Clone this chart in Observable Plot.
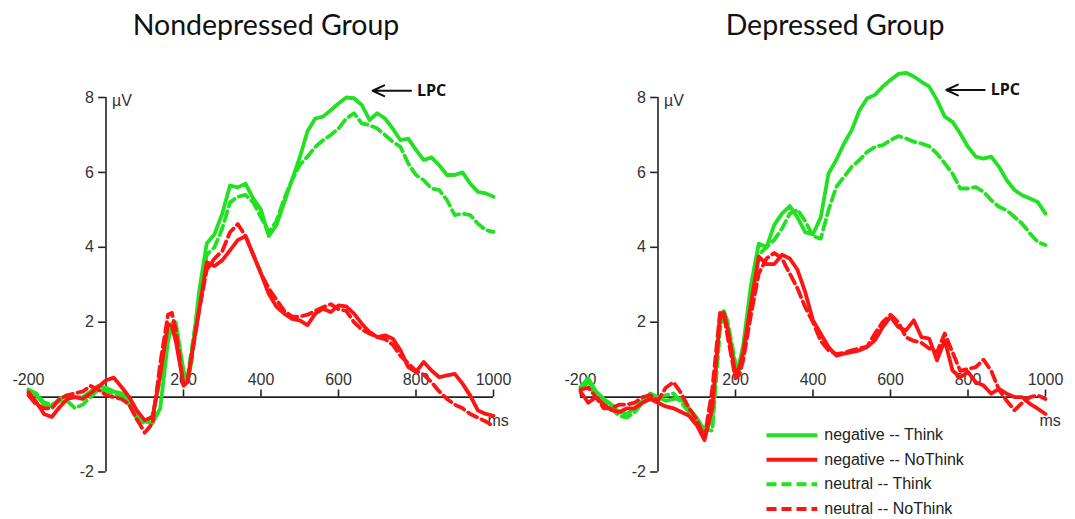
<!DOCTYPE html>
<html><head><meta charset="utf-8">
<script src="https://cdn.jsdelivr.net/npm/d3@7"></script>
<script src="https://cdn.jsdelivr.net/npm/@observablehq/plot@0.6"></script>
<style>body{margin:0;background:#fff} svg{display:block}</style>
</head><body><div id="chart"></div>
<script>
const panels = ["Nondepressed Group", "Depressed Group"];
const seriesNames = ["negative -- Think", "negative -- NoThink", "neutral -- Think", "neutral -- NoThink"];
const xTickLabels = [-200, 200, 400, 600, 800, 1000];
const yTickLabels = [-2, 2, 4, 6, 8];

const times = [-200,-180,-160,-140,-120,-100,-80,-60,-40,-20,0,20,40,60,80,100,120,140,160,170,180,200,210,220,
  240,260,280,300,320,340,360,380,400,420,440,460,480,500,520,540,560,580,600,620,640,660,680,700,720,740,760,780,800,
  820,840,860,880,900,920,940,960,980,1000];

// Nondepressed group
const ndNegThink = [0.2,0.05,-0.2,-0.25,-0.05,0.05,0,0,0.15,0.3,0.25,0.15,0.1,-0.1,-0.5,-0.65,-0.7,-0.3,1.5,1.9,2.0,0.7,0.4,0.9,
  2.8,4.1,4.35,4.9,5.65,5.6,5.7,5.3,5.0,4.3,4.6,5.2,5.8,6.4,7.1,7.44,7.49,7.66,7.84,8.0,7.98,7.8,7.4,7.58,7.44,7.17,6.86,6.9,6.6,
  6.33,6.4,6.19,5.93,5.93,6.0,5.7,5.48,5.44,5.35];
const ndNegNoThink = [0.13,-0.13,-0.45,-0.53,-0.27,-0.05,0,-0.05,0.1,0.27,0.45,0.52,0.27,0,-0.36,-0.62,-0.53,0.6,1.95,1.9,1.5,0.35,0.4,1.07,
  2.3,3.6,3.5,3.65,3.92,4.19,4.3,3.8,3.3,2.76,2.41,2.23,2.09,2.05,1.92,2.23,2.36,2.27,2.45,2.42,2.23,1.96,1.74,1.6,1.65,1.56,1.25,0.8,0.67,
  0.94,0.71,0.53,0.58,0.62,0.36,0.04,-0.36,-0.45,-0.5];
const ndNeuThink = [0.2,0.1,-0.15,-0.2,-0.1,-0.1,-0.3,-0.2,0,0.2,0.15,0.1,0,-0.2,-0.6,-0.7,-0.5,0.5,1.9,2.0,1.8,0.5,0.5,1.2,
  2.6,3.8,4.0,4.5,5.2,5.35,5.4,5.2,4.8,4.4,4.7,5.3,5.79,6.2,6.42,6.68,6.86,7.0,7.17,7.44,7.58,7.31,7.26,7.17,7.0,6.82,6.68,6.24,5.93,
  5.79,5.57,5.53,5.26,4.86,4.9,4.86,4.63,4.46,4.41];
const ndNeuNoThink = [0.05,-0.2,-0.3,-0.3,-0.05,0.05,0.1,0.15,0.3,0.2,0.05,0,-0.05,-0.2,-0.6,-0.95,-0.7,0.9,2.2,2.25,1.8,0.3,0.4,1.0,
  2.3,3.4,3.7,3.9,4.4,4.62,4.3,3.8,3.3,2.9,2.6,2.3,2.15,2.15,2.2,2.3,2.4,2.48,2.35,2.3,2.0,1.8,1.7,1.6,1.55,1.4,1.1,0.9,0.7,
  0.6,0.4,0.15,-0.05,-0.2,-0.3,-0.45,-0.55,-0.65,-0.78];

// Depressed group
const dNegThink = [0.27,0.5,0.15,-0.05,-0.2,-0.4,-0.45,-0.3,-0.1,0.1,0,-0.1,-0.05,-0.05,-0.3,-0.55,-0.9,-0.6,2.2,2.3,1.9,0.8,0.9,1.4,
  3.0,4.1,4.0,4.6,4.9,5.1,4.8,4.4,4.35,4.8,5.97,6.33,6.77,7.13,7.66,7.98,8.07,8.29,8.47,8.63,8.66,8.56,8.42,8.29,7.93,7.49,7.35,7.04,6.68,
  6.42,6.37,6.42,6.15,5.79,5.53,5.39,5.3,5.21,4.9];
const dNegNoThink = [0.15,-0.15,0,-0.2,-0.35,-0.4,-0.3,-0.3,-0.15,-0.05,-0.15,-0.25,-0.3,-0.4,-0.5,-0.75,-1.15,-0.3,2.1,2.25,1.8,0.6,0.8,1.2,
  2.5,3.75,3.55,3.55,3.8,3.7,3.4,2.8,2.05,1.69,1.34,1.11,1.16,1.2,1.25,1.34,1.52,1.87,2.14,1.87,1.78,2.05,1.6,1.56,0.98,1.52,0.71,0.53,0.67,
  0.4,0.31,0.09,0.22,0.09,0,0,-0.18,-0.31,-0.45];
const dNeuThink = [0.2,0.4,0,-0.15,-0.3,-0.5,-0.55,-0.4,-0.15,0,0,0.05,0.1,-0.15,-0.4,-0.6,-0.85,-0.9,1.8,2.3,2.0,0.9,0.7,1.3,
  2.8,3.8,4.0,4.2,4.5,4.9,5.0,4.7,4.3,4.23,4.99,5.61,5.88,6.15,6.33,6.55,6.68,6.73,6.86,6.97,6.91,6.82,6.77,6.7,6.5,6.24,5.97,5.57,5.57,
  5.61,5.48,5.26,5.08,4.99,4.81,4.63,4.37,4.14,4.06];
const dNeuNoThink = [0.2,0.25,0,-0.3,-0.3,-0.2,-0.2,-0.15,0,0.05,-0.1,0.25,0.4,0.1,-0.3,-0.6,-1.1,0.2,2.25,2.2,1.6,0.5,0.6,1.0,
  2.2,3.3,3.7,3.85,3.7,3.3,2.9,2.4,2.0,1.5,1.25,1.15,1.18,1.25,1.3,1.35,1.7,2.0,2.2,2.0,1.6,1.5,1.45,1.3,1.2,1.7,1.2,0.7,0.75,
  0.8,1.0,0.7,0.2,-0.1,-0.35,-0.15,0,0.05,-0.05];

const values = {
  "Nondepressed Group": {"negative -- Think": ndNegThink, "negative -- NoThink": ndNegNoThink, "neutral -- Think": ndNeuThink, "neutral -- NoThink": ndNeuNoThink},
  "Depressed Group": {"negative -- Think": dNegThink, "negative -- NoThink": dNegNoThink, "neutral -- Think": dNeuThink, "neutral -- NoThink": dNeuNoThink}
};

const GREEN = "#22e022", RED = "#ff1414", AXIS = "#222";
const colorOf = s => s.endsWith("NoThink") ? RED : GREEN;
const dashOf = s => s.startsWith("neutral") ? "10,5" : null;

const rows = [];
for (const p of panels) for (const s of seriesNames) times.forEach((t, i) => rows.push({panel: p, series: s, t, v: values[p][s][i]}));

const drawOrder = ["neutral -- Think", "negative -- Think", "neutral -- NoThink", "negative -- NoThink"];
const lineMarks = drawOrder.map(s => Plot.line(rows.filter(d => d.series === s), {
  fx: "panel", x: "t", y: "v", stroke: colorOf(s), strokeWidth: 3.8, strokeDasharray: dashOf(s), strokeLinejoin: "round"
}));

// annotations (positions in ms / µV)
const lpc = [
  {panel: "Nondepressed Group", tail: 787, head: 688, v: 8.18},
  {panel: "Depressed Group", tail: 843, head: 744, v: 8.2}
];
const legendRows = seriesNames.map((s, i) => ({panel: "Depressed Group", s, v: -1.02 - i * 0.655}));

const chart = Plot.plot({
  width: 1075, height: 519,
  marginLeft: 27, marginRight: 29, marginTop: 97, marginBottom: 47.5,
  fx: {domain: panels, paddingInner: 0.157, paddingOuter: 0, axis: null, label: null},
  x: {domain: [-200, 1000], axis: null},
  y: {domain: [-2, 8], axis: null},
  style: {fontFamily: "'Liberation Sans', Arial, sans-serif", fontSize: "16px", color: "#333", background: "#fff"},
  marks: [
    Plot.text([panels[0]], {fx: d => d, frameAnchor: "top", dy: -72, dx: 5, lineAnchor: "middle", text: d => d, fontSize: 28.5, fontFamily: "Lato", fill: "#111"}),
    Plot.text([panels[1]], {fx: d => d, frameAnchor: "top", dy: -72, dx: 22, lineAnchor: "middle", text: d => d, fontSize: 28.5, fontFamily: "Lato", fill: "#111"}),
    // axes
    Plot.text(xTickLabels, {x: d => d, y: 0, dy: -17, text: d => String(d), fill: "#333"}),
    Plot.text(yTickLabels, {x: 0, y: d => d, dx: -12, textAnchor: "end", text: d => String(d), fill: "#333"}),
    Plot.ruleY([0], {x1: -200, x2: 1000, stroke: AXIS, strokeWidth: 1.6}),
    Plot.ruleX([0], {y1: -2, y2: 8, stroke: AXIS, strokeWidth: 1.6}),
    Plot.ruleY(yTickLabels, {y: d => d, x1: -19, x2: 0, stroke: AXIS, strokeWidth: 1.6}),
    Plot.ruleX(xTickLabels, {x: d => d, y1: 0, y2: 0.19, stroke: AXIS, strokeWidth: 1.6}),
    Plot.text(["µV"], {x: 0, y: 8, dx: 6, dy: 3, textAnchor: "start", text: d => d, fill: "#333"}),
    Plot.text(["ms"], {x: 1000, y: 0, dx: -6, dy: 24, textAnchor: "start", text: d => d, fill: "#333"}),
    // LPC annotation
    Plot.arrow(lpc, {fx: "panel", x1: "tail", x2: "head", y1: "v", y2: "v", stroke: "#111", strokeWidth: 2, headLength: 10, headAngle: 50}),
    Plot.text(lpc, {fx: "panel", x: "tail", y: "v", dx: 6, textAnchor: "start", text: () => "LPC", fontWeight: "bold", fontFamily: "'Open Sans'", fontSize: 16, fill: "#111"}),
    // curves
    ...lineMarks,
    // legend
    Plot.link(legendRows, {fx: "panel", x1: 280, x2: 411, y1: "v", y2: "v", stroke: d => colorOf(d.s), strokeWidth: 4,
      filter: d => !dashOf(d.s)}),
    Plot.link(legendRows, {fx: "panel", x1: 280, x2: 411, y1: "v", y2: "v", stroke: d => colorOf(d.s), strokeWidth: 4, strokeDasharray: "10,5",
      filter: d => !!dashOf(d.s)}),
    Plot.text(legendRows, {fx: "panel", x: 429, y: "v", textAnchor: "start", text: "s", fontSize: 16, fill: "#222"})
  ]
});
document.getElementById("chart").appendChild(chart);
</script>
</body></html>
